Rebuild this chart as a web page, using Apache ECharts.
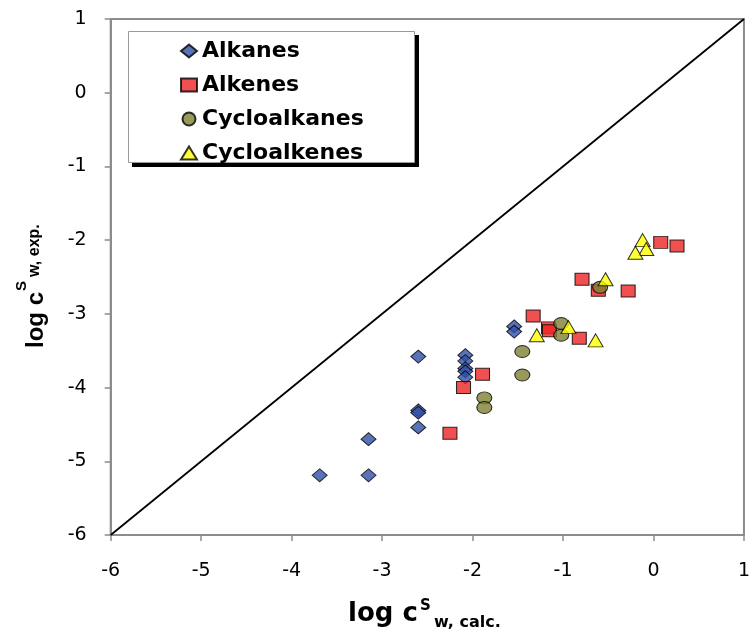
<!DOCTYPE html>
<html>
<head>
<meta charset="utf-8">
<script src="https://cdn.jsdelivr.net/npm/echarts@6/dist/echarts.min.js"></script>
<style>html,body{margin:0;padding:0;background:#fff}#c{width:753px;height:635px}</style>
</head>
<body>
<div id="c"></div>
<script>
// ---- data ----
var seriesNames = ['Alkanes', 'Alkenes', 'Cycloalkanes', 'Cycloalkenes'];
var alkanesX = [-3.69, -3.15, -3.15, -2.60, -2.60, -2.60, -2.60, -2.08, -2.08, -2.08, -2.08, -2.08, -1.54, -1.54];
var alkanesY = [-5.19, -5.19, -4.70, -4.54, -4.31, -4.34, -3.58, -3.56, -3.64, -3.74, -3.78, -3.86, -3.17, -3.24];
var alkenesX = [-2.25, -2.10, -1.89, -1.33, -1.16, -1.15, -0.82, -0.79, -0.61, -0.28, 0.08, 0.26];
var alkenesY = [-4.62, -4.00, -3.82, -3.03, -3.19, -3.23, -3.33, -2.53, -2.68, -2.69, -2.03, -2.08];
var cycloalkanesX = [-1.87, -1.87, -1.45, -1.45, -1.02, -1.02, -0.59];
var cycloalkanesY = [-4.14, -4.27, -3.51, -3.83, -3.13, -3.29, -2.64];
var cycloalkenesX = [-1.29, -0.94, -0.64, -0.53, -0.12, -0.08, -0.20];
var cycloalkenesY = [-3.29, -3.18, -3.36, -2.53, -2.00, -2.12, -2.17];
var diagX = [-6, 1];
var diagY = [-6, 1];
var axisMin = -6, axisMax = 1, axisStep = 1;

function pairs(xs, ys) { return xs.map(function (x, i) { return [x, ys[i]]; }); }

var chart = echarts.init(document.getElementById('c'), null, { renderer: 'canvas' });
var axisColor = '#8c8c8c';
function axisCfg(margin) {
  return {
    type: 'value', min: axisMin, max: axisMax, interval: axisStep,
    axisLine: { show: true, onZero: false, lineStyle: { color: axisColor, width: 2 } },
    axisTick: { show: true, inside: false, length: 6, lineStyle: { color: axisColor, width: 1.5 } },
    axisLabel: { margin: margin, fontSize: 19, fontFamily: 'DejaVu Sans', color: '#000' },
    splitLine: { show: false }
  };
}
var border = { borderColor: '#000', borderWidth: 1 };
chart.setOption({
  animation: false,
  backgroundColor: '#fff',
  grid: { left: 110.7, right: 8, top: 19, bottom: 100, show: true, borderColor: axisColor, borderWidth: 2, backgroundColor: 'transparent' },
  xAxis: axisCfg(27),
  yAxis: axisCfg(24),
  legend: {
    data: seriesNames, orient: 'vertical', left: 128, top: 31, z: 10,
    padding: [9, 40, 6, 52], itemWidth: 16, itemHeight: 13, itemGap: 12,
    backgroundColor: 'transparent', borderWidth: 0,
    textStyle: { fontFamily: 'DejaVu Sans', fontWeight: 'bold', fontSize: 22, color: '#000', lineHeight: 20 }
  },
  graphic: [
    { type: 'rect', z: 0, silent: true, shape: { x: 132, y: 35, width: 287, height: 132 }, style: { fill: '#000' } },
    { type: 'rect', z: 0, silent: true, shape: { x: 128.5, y: 31.5, width: 286, height: 131 }, style: { fill: '#fff', stroke: '#9a9a9a', lineWidth: 1 } },
    { type: 'text', x: 348, y: 623 - 9, style: { text: 'log c', font: 'bold 26px "DejaVu Sans"', fill: '#000', align: 'left', verticalAlign: 'middle' } },
    { type: 'text', x: 420, y: 611 - 5, style: { text: 'S', font: 'bold 15px "DejaVu Sans"', fill: '#000', align: 'left', verticalAlign: 'middle' } },
    { type: 'text', x: 434, y: 628 - 5.5, style: { text: 'w, calc.', font: 'bold 16px "DejaVu Sans"', fill: '#000', align: 'left', verticalAlign: 'middle' } },
    { type: 'text', x: 44 - 8, y: 348, rotation: Math.PI / 2, style: { text: 'log c', font: 'bold 24px "Liberation Sans"', fill: '#000', align: 'left', verticalAlign: 'middle' } },
    { type: 'text', x: 27 - 5, y: 291, rotation: Math.PI / 2, style: { text: 'S', font: 'bold 15px "Liberation Sans"', fill: '#000', align: 'left', verticalAlign: 'middle' } },
    { type: 'text', x: 40 - 5.5, y: 277, rotation: Math.PI / 2, style: { text: 'w, exp.', font: 'bold 16px "Liberation Sans"', fill: '#000', align: 'left', verticalAlign: 'middle' } }
  ],
  series: [
    { type: 'line', data: pairs(diagX, diagY), showSymbol: false, silent: true, z: 1,
      lineStyle: { color: '#000', width: 1.8 } },
    { name: seriesNames[0], type: 'scatter', z: 2, symbol: 'diamond', symbolSize: [15, 13],
      itemStyle: Object.assign({ color: '#3050a6' }, border), data: pairs(alkanesX, alkanesY) },
    { name: seriesNames[1], type: 'scatter', z: 3, symbol: 'rect', symbolSize: [14, 12],
      itemStyle: Object.assign({ color: '#ee2424' }, border), data: pairs(alkenesX, alkenesY) },
    { name: seriesNames[2], type: 'scatter', z: 4, symbol: 'circle', symbolSize: [15, 12],
      itemStyle: Object.assign({ color: '#808032' }, border), data: pairs(cycloalkanesX, cycloalkanesY) },
    { name: seriesNames[3], type: 'scatter', z: 5, symbol: 'triangle', symbolSize: [15, 13],
      itemStyle: Object.assign({ color: '#ffff00' }, border), data: pairs(cycloalkenesX, cycloalkenesY) }
  ]
});
</script>
</body>
</html>
